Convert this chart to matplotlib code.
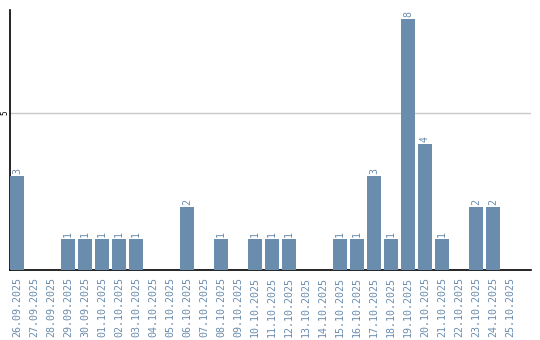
import matplotlib
matplotlib.use("Agg")
import matplotlib.pyplot as plt
import numpy as np

dates = ["26.09.2025", "27.09.2025", "28.09.2025", "29.09.2025", "30.09.2025",
         "01.10.2025", "02.10.2025", "03.10.2025", "04.10.2025", "05.10.2025",
         "06.10.2025", "07.10.2025", "08.10.2025", "09.10.2025", "10.10.2025",
         "11.10.2025", "12.10.2025", "13.10.2025", "14.10.2025", "15.10.2025",
         "16.10.2025", "17.10.2025", "18.10.2025", "19.10.2025", "20.10.2025",
         "21.10.2025", "22.10.2025", "23.10.2025", "24.10.2025", "25.10.2025"]
counts = [3, 0, 0, 1, 1, 1, 1, 1, 0, 0,
          2, 0, 1, 0, 1, 1, 1, 0, 0, 1,
          1, 3, 1, 8, 4, 1, 0, 2, 2, 0]
yticks = [5]

bar_color = "#6a8cad"
label_color = "#6a8cad"

fig = plt.figure(figsize=(5.4, 3.4), dpi=100)
ax = fig.add_axes([10/540, 70/340, 521/540, 260/340])

x = np.arange(len(dates))
ax.bar(x, counts, width=14/17, color=bar_color, zorder=3)
for xi, v in zip(x, counts):
    if v > 0:
        ax.annotate(str(v), (xi, v), xytext=(0, 1.5), textcoords="offset points",
                    rotation=90, ha="center", va="bottom", color=label_color,
                    fontsize=7.2, family="DejaVu Sans Mono")

ax.set_xlim(-7/17, 30.24)
ax.set_ylim(0, 260/31.4)
ax.set_xticks(x)
ax.set_xticklabels(dates, rotation=90, color=label_color, fontsize=7.2,
                   family="DejaVu Sans Mono")
ax.set_yticks(yticks)
ax.set_yticklabels([str(t) for t in yticks], rotation=90, fontsize=5.5,
                   family="DejaVu Sans Mono", va="center")
ax.tick_params(axis="both", length=0)
ax.tick_params(axis="x", pad=5)
ax.tick_params(axis="y", pad=0.5)
ax.grid(axis="y", color="#c8c8c8", linewidth=1, zorder=0)
for s in ["top", "right"]:
    ax.spines[s].set_visible(False)
ax.spines["left"].set_color("black")
ax.spines["bottom"].set_color("black")
ax.spines["left"].set_linewidth(1.2)
ax.spines["bottom"].set_linewidth(1.2)

fig.savefig("out.png", dpi=100)
